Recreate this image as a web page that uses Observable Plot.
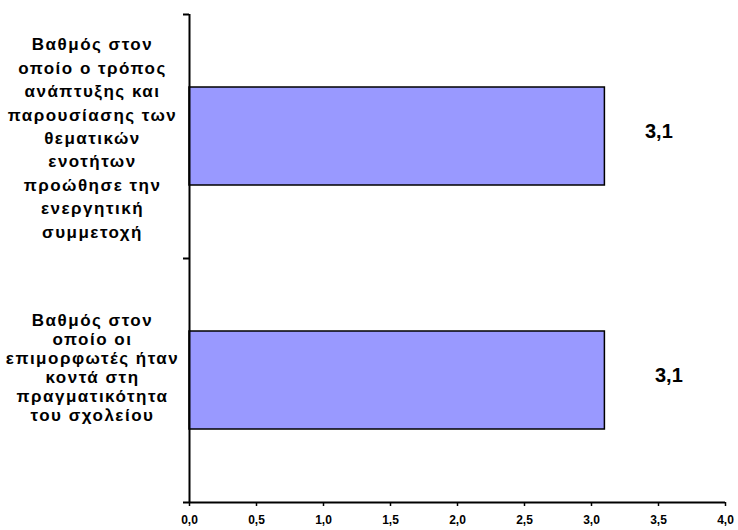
<!DOCTYPE html>
<html><head><meta charset="utf-8">
<script src="https://cdn.jsdelivr.net/npm/d3@7"></script>
<script src="https://cdn.jsdelivr.net/npm/@observablehq/plot@0.6"></script>
<style>body{margin:0;background:#fff}</style>
</head><body><div id="chart"></div>
<script>
const categories = [
  "Βαθμός στον\nοποίο ο τρόπος\nανάπτυξης και\nπαρουσίασης των\nθεματικών\nενοτήτων\nπροώθησε την\nενεργητική\nσυμμετοχή",
  "Βαθμός στον\nοποίο οι\nεπιμορφωτές ήταν\nκοντά στη\nπραγματικότητα\nτου σχολείου"
];
const values = [3.1, 3.1];
const xTicks = [0, 0.5, 1, 1.5, 2, 2.5, 3, 3.5, 4];

const data = categories.map((c, i) => ({cat: c, value: values[i]}));
const fmt = d => d.toFixed(1).replace(".", ",");
const font = "'Liberation Sans', Arial, sans-serif";

const chart = Plot.plot({
  width: 738, height: 530,
  marginLeft: 189, marginRight: 13, marginTop: 14, marginBottom: 28,
  style: {fontFamily: font, background: "white", color: "black"},
  x: {domain: [0, 4], label: null},
  y: {domain: categories, padding: 0, label: null},
  marks: [
    Plot.barX(data, {x: "value", y: "cat", fill: "#9999FF", stroke: "black", strokeWidth: 1.5, insetTop: 73, insetBottom: 73}),
    Plot.ruleX([0], {stroke: "black", strokeWidth: 2}),
    Plot.ruleY([categories[categories.length - 1]], {dy: 122, insetLeft: -6, stroke: "black", strokeWidth: 2}),
    Plot.axisY({tickSize: 6, tickFormat: () => "", label: null, dy: -122, strokeWidth: 2}),
    Plot.axisX({ticks: xTicks, tickFormat: fmt, label: null, tickSize: 4, tickPadding: 9, fontSize: 12, fontWeight: "bold", strokeWidth: 1.5}),
    Plot.text([data[0]], {y: "cat", text: "cat", frameAnchor: "left", dx: -97, dy: 0, textAnchor: "middle", lineHeight: 1.38, fontSize: 17, fontWeight: "bold"}),
    Plot.text([data[1]], {y: "cat", text: "cat", frameAnchor: "left", dx: -97, dy: -13, textAnchor: "middle", lineHeight: 1.12, fontSize: 17, fontWeight: "bold"}),
    Plot.text([data[0]], {x: "value", y: "cat", text: d => fmt(d.value), dx: 54, dy: -5, textAnchor: "middle", fontSize: 20, fontWeight: "bold"}),
    Plot.text([data[1]], {x: "value", y: "cat", text: d => fmt(d.value), dx: 64, dy: -5, textAnchor: "middle", fontSize: 20, fontWeight: "bold"})
  ]
});
const textGroups = chart.querySelectorAll('g[aria-label="text"]');
[0, 1].forEach(i => { if (textGroups[i]) textGroups[i].style.letterSpacing = "1.5px"; });
document.getElementById("chart").appendChild(chart);
</script>
</body></html>
